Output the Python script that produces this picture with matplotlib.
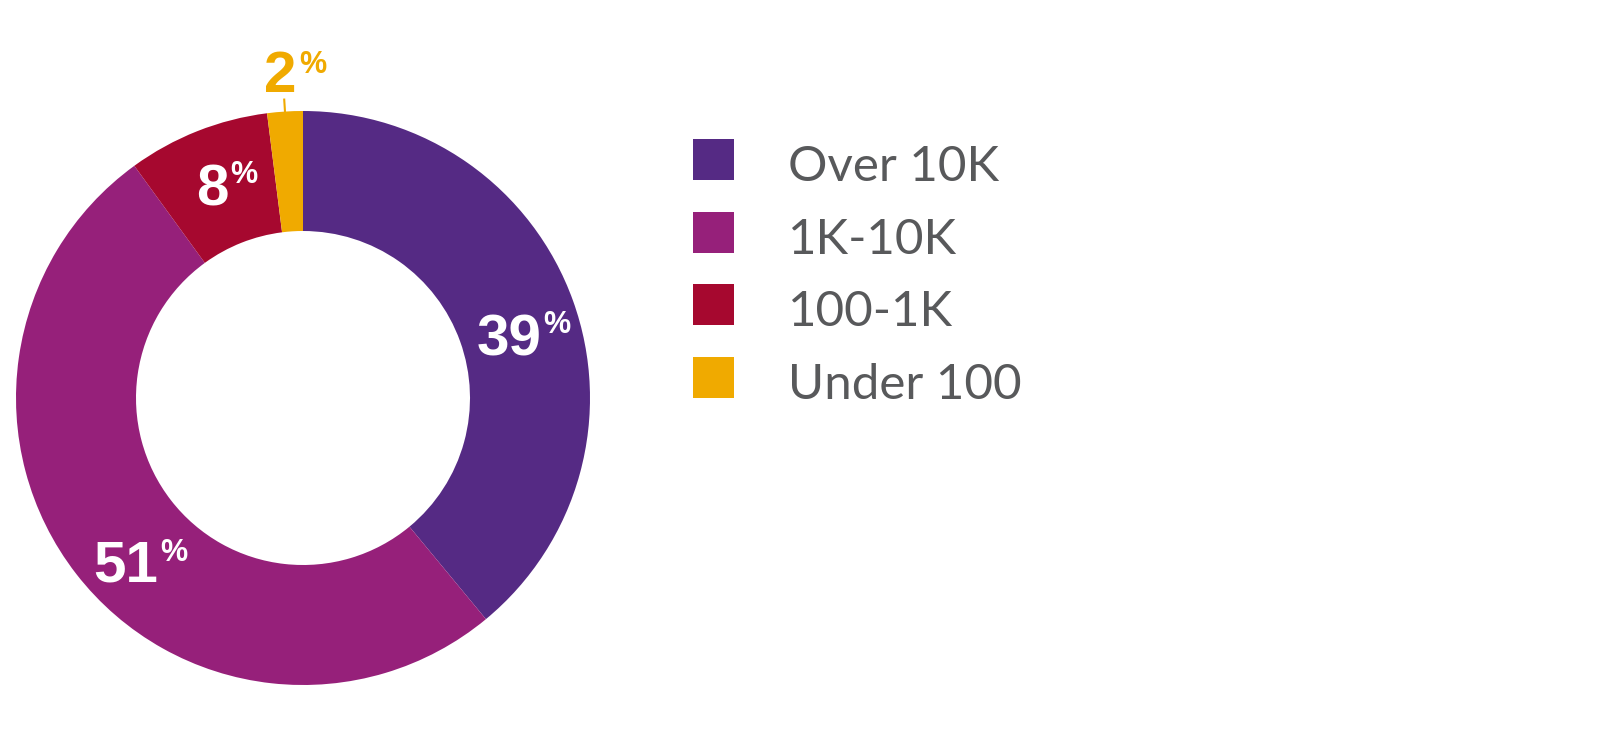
import numpy as np
import matplotlib.pyplot as plt
from matplotlib.patches import Rectangle

categories = ["Over 10K", "1K-10K", "100-1K", "Under 100"]
shares = [39, 51, 8, 2]
colors = ["#552A84", "#96207A", "#A6082F", "#F0AA00"]
label_colors = ["white", "white", "white", "#F0AA00"]

W, H = 1600, 735
CX, CY = 303, H - 398
R_OUT, R_IN = 287, 167

fig = plt.figure(figsize=(16, 7.35), dpi=100)
ax = fig.add_axes([0, 0, 1, 1])

wedges, _ = ax.pie(shares, colors=colors, startangle=90, counterclock=False,
                   center=(CX, CY), radius=R_OUT, frame=True,
                   wedgeprops=dict(width=R_OUT - R_IN, edgecolor="none", linewidth=0))
ax.set_xlim(0, W)
ax.set_ylim(0, H)
ax.set_aspect("equal")
ax.axis("off")

num_font = ["Liberation Sans Narrow", "Liberation Sans", "DejaVu Sans"]

# label anchor: right edge of digits, baseline (pixel coords from top), % top
label_pos = [(541, 355, 310), (158, 582, 538), (228, 205, 160), (297, 92, 50)]
for val, col, (xe, yb, yt) in zip(shares, label_colors, label_pos):
    ax.text(xe, H - yb, str(val), ha="right", va="baseline", color=col,
            fontsize=42, fontweight="bold", family=num_font)
    ax.text(xe + 2, H - yt, "%", ha="left", va="top", color=col,
            fontsize=22, fontweight="bold", family=num_font)

# leader tick for the small slice
cum = np.cumsum([0] + shares[:-1])
mid = np.deg2rad(90 - (cum[-1] + shares[-1] / 2) / sum(shares) * 360)
ax.plot([CX + R_OUT * np.cos(mid), CX + (R_OUT + 12) * np.cos(mid)],
        [CY + R_OUT * np.sin(mid), CY + (R_OUT + 12) * np.sin(mid)],
        color=colors[-1], linewidth=1.5)

# legend
for i, (cat, col) in enumerate(zip(categories, colors)):
    top = 139 + i * 72.7
    ax.add_patch(Rectangle((693, H - top - 41), 41, 41, facecolor=col, edgecolor="none"))
    ax.text(788, H - (top + 42), cat, ha="left", va="baseline", color="#58595B",
            fontsize=35.5, family=["Lato", "DejaVu Sans"])

fig.savefig("out.png", dpi=100, facecolor="white")
